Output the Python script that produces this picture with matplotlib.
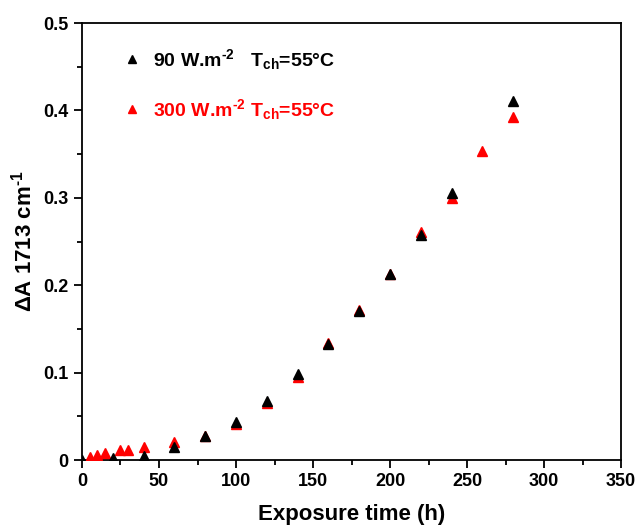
import numpy as np
import matplotlib
matplotlib.use("Agg")
import matplotlib.pyplot as plt
from matplotlib.ticker import MultipleLocator

plt.rcParams["font.family"] = ["Liberation Sans", "DejaVu Sans"]
plt.rcParams["font.weight"] = "bold"
plt.rcParams["mathtext.fontset"] = "custom"
plt.rcParams["mathtext.rm"] = "Liberation Sans:bold"
plt.rcParams["mathtext.bf"] = "Liberation Sans:bold"
plt.rcParams["mathtext.it"] = "Liberation Sans:bold"

# 90 W.m-2, Tch = 55 °C
t_90 = [0, 20, 40, 60, 80, 100, 120, 140, 160, 180, 200, 220, 240, 280]
a_90 = [0.000, 0.002, 0.005, 0.015, 0.027, 0.044, 0.068, 0.098, 0.133,
        0.171, 0.213, 0.257, 0.306, 0.411]

# 300 W.m-2, Tch = 55 °C
t_300 = [5, 10, 15, 25, 30, 40, 60, 80, 100, 120, 140, 160, 180, 200,
         220, 240, 260, 280]
a_300 = [0.004, 0.006, 0.008, 0.011, 0.012, 0.015, 0.021, 0.027, 0.041,
         0.065, 0.095, 0.134, 0.172, 0.213, 0.261, 0.300, 0.353, 0.392]

fig = plt.figure(figsize=(6.37, 5.29), dpi=100)
ax = fig.add_axes([0.1287, 0.1304, 0.8463, 0.8261])

ax.plot(t_300, a_300, "^", color="#ff0000", markersize=7, linestyle="none",
        label=r"300 W.m$^{\text{-2}}$ T$_{ch}$=55°C", zorder=3)
ax.plot(t_90, a_90, "^", color="black", markersize=7, linestyle="none",
        label=r"90 W.m$^{\text{-2}}$   T$_{ch}$=55°C", zorder=4)

ax.set_xlim(0, 350)
ax.set_ylim(0, 0.5)
ax.xaxis.set_major_locator(MultipleLocator(50))
ax.xaxis.set_minor_locator(MultipleLocator(25))
ax.yaxis.set_major_locator(MultipleLocator(0.1))
ax.yaxis.set_minor_locator(MultipleLocator(0.05))
ax.set_yticks([0, 0.1, 0.2, 0.3, 0.4, 0.5])
ax.set_yticklabels(["0", "0.1", "0.2", "0.3", "0.4", "0.5"])

ax.tick_params(which="both", direction="out", width=1.3, labelsize=13,
               top=False, right=False)
ax.tick_params(which="major", length=6)
ax.tick_params(which="minor", length=3.5)
for s in ax.spines.values():
    s.set_linewidth(1.3)

ax.set_xlabel("Exposure time (h)", fontsize=16, fontweight="bold", labelpad=10)
ax.set_ylabel(r"$\Delta$A 1713 cm$^{\text{-1}}$", fontsize=16, fontweight="bold", labelpad=5)

handles, labels = ax.get_legend_handles_labels()
leg = ax.legend(handles[::-1], labels[::-1], loc="upper left",
                bbox_to_anchor=(0.04, 0.985), frameon=False, fontsize=14,
                markerscale=0.75, handletextpad=0.55, labelspacing=1.3,
                handlelength=1.1, labelcolor=["black", "#ff0000"])

fig.savefig("out.png", dpi=100)
